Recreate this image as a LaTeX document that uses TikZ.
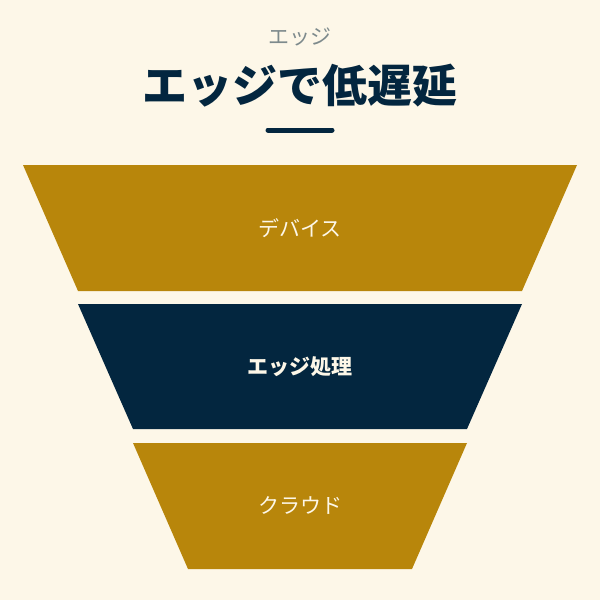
\documentclass[tikz,border=0pt]{standalone}
\usepackage{fontspec}
\setmainfont{Noto Sans CJK JP}
\definecolor{cream}{HTML}{FDF7E8}
\definecolor{gold}{HTML}{B8860B}
\definecolor{navy}{HTML}{03263F}
\definecolor{subgray}{HTML}{7D8A8C}

\begin{document}
\begin{tikzpicture}[x=1pt,y=-1pt]
	\fill [cream] (0,0) rectangle (600,600);
	\node [text=subgray,font=\fontsize{21}{21}\selectfont] (sub) at (300,37) {エッジ};
	\node [text=navy,font=\fontsize{45}{45}\selectfont\bfseries] (title) at (300,86) {エッジで低遅延};
	\draw [navy,line width=5pt,line cap=round] (268,130) to (332,130);
	\fill [gold] (23,165) -- (577,165) -- (522,291) -- (78,291) -- cycle;
	\fill [navy] (78,304) -- (522,304) -- (467,429) -- (133,429) -- cycle;
	\fill [gold] (133,443) -- (467,443) -- (412,569) -- (188,569) -- cycle;
	\node [text=cream,font=\fontsize{21}{21}\selectfont] (device) at (300,228) {デバイス};
	\node [text=cream,font=\fontsize{21}{21}\selectfont\bfseries] (edge) at (300,367) {エッジ処理};
	\node [text=cream,font=\fontsize{21}{21}\selectfont] (cloud) at (300,505) {クラウド};
\end{tikzpicture}
\end{document}
